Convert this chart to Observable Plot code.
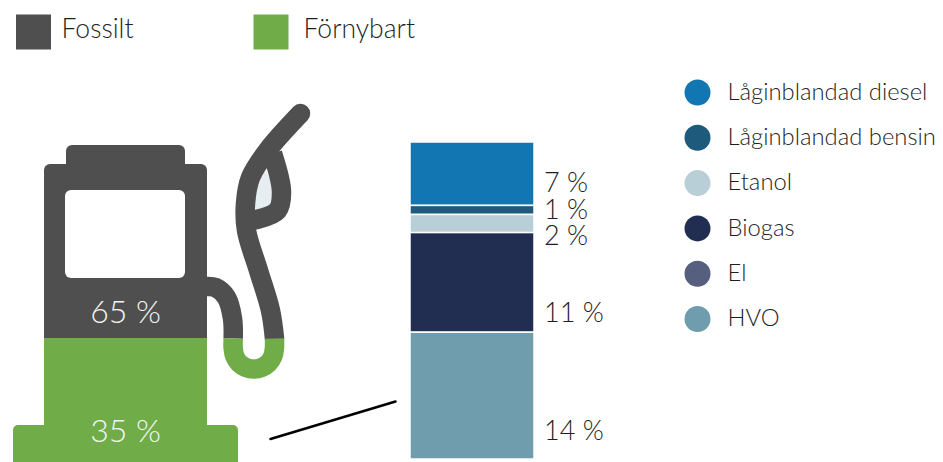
<!DOCTYPE html>
<html>
<head>
<meta charset="utf-8">
<script src="https://cdn.jsdelivr.net/npm/d3@7"></script>
<script src="https://cdn.jsdelivr.net/npm/@observablehq/plot@0.6"></script>
<style>html,body{margin:0;padding:0;background:#fff;overflow:hidden}</style>
</head>
<body>
<div id="chart"></div>
<script>
// Data
const fuelNames = ["Låginblandad diesel", "Låginblandad bensin", "Etanol", "Biogas", "El", "HVO"];
const fuelValues = [7, 1, 2, 11, 0, 14];
const fuelColors = ["#1276b2", "#1d5a7c", "#b9cfd8", "#212e52", "#565f7d", "#6f9dae"];
const shareNames = ["Fossilt", "Förnybart"];
const shareValues = [65, 35];
const shareColors = ["#4f4f4f", "#70ac47"];
const barLabels = ["7 %", "1 %", "2 %", "11 %", "14 %"];

// Layout (picture units)
const W = 943, H = 462, base = 459, perPct = 9.057;
const toY = px => (base - px) / perPct;
const level = 338;
const barLabelRows = [183, 209.5, 236, 313, 431];
const pumpLabelRows = [312, 431];

// Pictogram outlines (picture units; y is converted through the y scale)
const handle = [[274,338],[270,310],[258,270],[246,230],[245,203],[250,177],[267,150],[300,113]];
const trigger = [[272,153],[281,191],[277,210],[256,219],[245,220]];
const hoseIn = [[205,286],[215,287],[226,297],[232,318],[232.7,338]];
const hoseU = [[232.7,338],[232.7,348],[234.3,355.9],[238.7,362.6],[245.4,367],[253.3,368.6],[261.2,367],[267.9,362.6],[272.3,355.9],[273.9,348],[274,338]];
const drop = [[265,170],[280,195],[275,215],[250,222],[250,190]];
const pumpFossilRects = [[66,185,145,175],[44,207,164,345]];

const fuels = fuelNames.map((name, i) => ({name, value: fuelValues[i]}));
const segLabels = barLabels.map((label, i) => ({label, row: barLabelRows[i]}));
const rectRows = a => a.map(([x1, x2, t, b]) => ({x1, x2, y1: toY(b), y2: toY(t)}));
const lineRows = a => a.map(([x, y]) => ({x, y: toY(y)}));
const font = "Lato, 'Open Sans', sans-serif";
const ink = "#1f1f1f";
const lineOpts = {x: "x", y: "y", strokeWidth: 19.5, curve: "catmull-rom"};
const rectOpts = {x1: "x1", x2: "x2", y1: "y1", y2: "y2"};

const chart = Plot.plot({
  width: W, height: H,
  margin: 0,
  x: {domain: [0, W], range: [0, W], axis: null},
  y: {domain: [toY(H), toY(0)], range: [H, 0], axis: null},
  color: {domain: fuelNames, range: fuelColors},
  style: {background: "#fff", fontFamily: font},
  marks: [
    // Top legend
    Plot.rect(shareNames, {
      x1: (d, i) => 16 + 237.5 * i, x2: (d, i) => 51 + 237.5 * i,
      y1: toY(49.5), y2: toY(14.5),
      fill: (d, i) => shareColors[i]
    }),
    Plot.text(shareNames, {
      x: (d, i) => 61 + 242 * i, y: toY(29.5), text: d => d,
      textAnchor: "start", fontSize: 26.5, fontWeight: 300, fill: ink, fontFamily: font
    }),
    // Pump: fossil part
    Plot.line(lineRows(drop), {x: "x", y: "y", fill: "#e6eef2", stroke: "none"}),
    Plot.rect(rectRows(pumpFossilRects), {...rectOpts, fill: shareColors[0], rx: 6, ry: 6}),
    Plot.line(lineRows(handle), {...lineOpts, stroke: shareColors[0], strokeLinecap: "round"}),
    Plot.line(lineRows(trigger), {...lineOpts, stroke: shareColors[0], strokeLinecap: "butt"}),
    Plot.line(lineRows(hoseIn), {...lineOpts, stroke: shareColors[0], strokeLinecap: "butt"}),
    // Pump: window
    Plot.rect(rectRows([[65,185,190,278]]), {...rectOpts, fill: "#fff", rx: 6, ry: 6}),
    // Pump: renewable part
    Plot.rect(rectRows([[44,207,level,440]]), {...rectOpts, fill: shareColors[1]}),
    Plot.rect(rectRows([[13,238,425,467]]), {...rectOpts, fill: shareColors[1], rx: 5, ry: 5}),
    Plot.line(lineRows(hoseU), {...lineOpts, stroke: shareColors[1], strokeLinecap: "butt"}),
    Plot.text(shareValues.map(v => v + " %"), {
      x: 125, y: (d, i) => toY(pumpLabelRows[i]), text: d => d,
      fontSize: 32, fontWeight: 300, fill: "#f4f4f4", fontFamily: font
    }),
    // Connector
    Plot.line(lineRows([[270,438.5],[395,401]]), {x: "x", y: "y", stroke: "#000", strokeWidth: 2.5}),
    // Stacked bar
    Plot.rectY(fuels, Plot.stackY({
      x1: 410, x2: 534, y: "value", fill: "name", reverse: true,
      stroke: "#fff", strokeWidth: 1.5
    })),
    Plot.text(segLabels, {
      x: 543.5, y: d => toY(d.row), text: "label",
      textAnchor: "start", fontSize: 27, fontWeight: 300, fill: ink, fontFamily: font
    }),
    // Right legend
    Plot.dot(fuels, {
      x: 697, y: (d, i) => toY(92 + 45.3 * i), r: 13, fill: "name", stroke: "none"
    }),
    Plot.text(fuels, {
      x: 727, y: (d, i) => toY(91.5 + 45.3 * i), text: "name",
      textAnchor: "start", fontSize: 23.8, fontWeight: 300, fill: ink, fontFamily: font
    })
  ]
});
document.getElementById("chart").append(chart);
</script>
</body>
</html>
